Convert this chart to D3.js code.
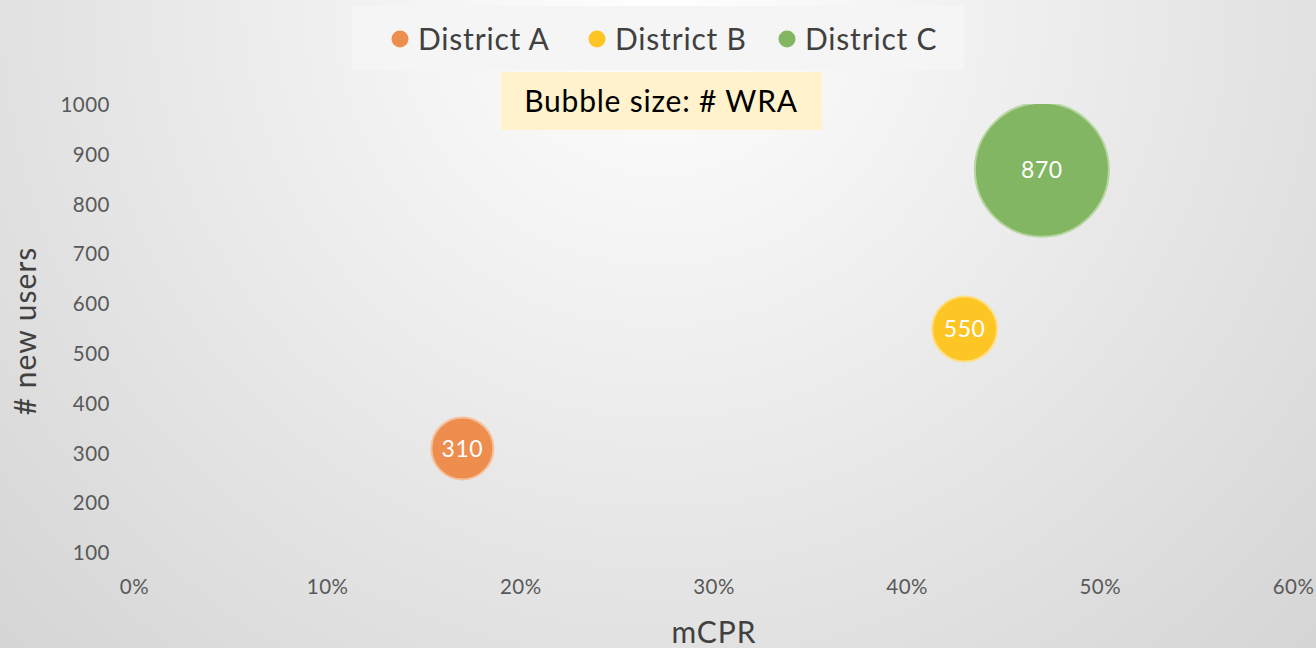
<!DOCTYPE html>
<html>
<head>
<meta charset="utf-8">
<script src="https://cdn.jsdelivr.net/npm/d3@7"></script>
<style>
  html, body { margin: 0; padding: 0; }
  body { width: 1316px; height: 648px; overflow: hidden; font-family: Lato, "Open Sans", sans-serif; }
</style>
</head>
<body>
<div id="container"></div>
<script>
const districts = ["District A", "District B", "District C"];
const mcpr = [0.17, 0.43, 0.47];
const newUsers = [310, 550, 870];
const wra = [2100, 2300, 9800];
const fillColors = ["#ee8e4e", "#fdc624", "#82b662"];
const strokeColors = ["#f6c19c", "#fedf86", "#b7d6a2"];
const yTicks = [100, 200, 300, 400, 500, 600, 700, 800, 900, 1000];
const xTicks = [0, 0.1, 0.2, 0.3, 0.4, 0.5, 0.6];

const width = 1316;
const height = 648;

const svg = d3.select("#container").append("svg")
  .attr("width", width).attr("height", height);

const defs = svg.append("defs");
const grad = defs.append("radialGradient")
  .attr("id", "bg").attr("gradientUnits", "userSpaceOnUse")
  .attr("cx", 660).attr("cy", 0).attr("r", 900);
grad.append("stop").attr("offset", "0%").attr("stop-color", "#ffffff");
grad.append("stop").attr("offset", "100%").attr("stop-color", "#d6d6d6");

defs.append("clipPath").attr("id", "plot-clip")
  .append("rect").attr("x", 0).attr("y", 104).attr("width", width).attr("height", 460);

svg.append("rect").attr("width", width).attr("height", height).attr("fill", "url(#bg)");

const x = d3.scaleLinear().domain([0, 0.6]).range([134, 1293]);
const y = d3.scaleLinear().domain([100, 1000]).range([553, 105]);
const r = d3.scaleSqrt().domain([0, d3.max(wra)]).range([0, 67]);

// y axis labels
const yAxis = svg.append("g").attr("transform", "translate(110,0)")
  .call(d3.axisLeft(y).tickValues(yTicks).tickFormat(d3.format("d")).tickSize(0).tickPadding(0));
yAxis.select(".domain").remove();
yAxis.selectAll("text")
  .attr("font-family", "Lato, sans-serif").attr("font-size", 20.5)
  .attr("letter-spacing", 0.5).attr("fill", "#595959");

// x axis labels
const xAxis = svg.append("g").attr("transform", "translate(0,579)")
  .call(d3.axisBottom(x).tickValues(xTicks).tickFormat(d3.format(".0%")).tickSize(0).tickPadding(0));
xAxis.select(".domain").remove();
xAxis.selectAll("text")
  .attr("font-family", "Lato, sans-serif").attr("font-size", 20.5)
  .attr("letter-spacing", 0.5).attr("fill", "#595959");

// axis titles
svg.append("text")
  .attr("transform", "translate(36,331) rotate(-90)")
  .attr("text-anchor", "middle")
  .attr("font-size", 30).attr("letter-spacing", 1).attr("fill", "#404040")
  .text("# new users");

svg.append("text")
  .attr("x", 714).attr("y", 643)
  .attr("text-anchor", "middle")
  .attr("font-size", 30).attr("letter-spacing", 1).attr("fill", "#404040")
  .text("mCPR");

// bubbles
const data = districts.map((name, i) => ({
  name, mcpr: mcpr[i], users: newUsers[i], wra: wra[i], fill: fillColors[i], stroke: strokeColors[i]
}));

const bubbles = svg.append("g").attr("clip-path", "url(#plot-clip)")
  .selectAll("g").data(data).enter().append("g")
  .attr("transform", d => `translate(${x(d.mcpr)},${y(d.users)})`);

bubbles.append("circle")
  .attr("r", d => r(d.wra))
  .attr("fill", d => d.fill)
  .attr("stroke", d => d.stroke)
  .attr("stroke-width", 2);

bubbles.append("text")
  .attr("text-anchor", "middle")
  .attr("dy", "0.36em")
  .attr("font-size", 23).attr("letter-spacing", 0.6).attr("fill", "#ffffff")
  .text(d => d.users);

// legend
svg.append("rect")
  .attr("x", 352).attr("y", 6).attr("width", 612).attr("height", 64)
  .attr("fill", "#f5f5f5");

const legendX = [400, 597, 787];
const legend = svg.selectAll(".legend-item").data(data).enter().append("g")
  .attr("class", "legend-item")
  .attr("transform", (d, i) => `translate(${legendX[i]},39)`);

legend.append("circle").attr("r", 8.5).attr("fill", d => d.fill);
legend.append("text")
  .attr("x", 18).attr("dy", "0.35em")
  .attr("font-size", 30).attr("letter-spacing", 0.8).attr("fill", "#404040")
  .text(d => d.name);

// bubble size note
svg.append("rect")
  .attr("x", 501).attr("y", 72).attr("width", 321).attr("height", 58)
  .attr("fill", "#fff2cc");
svg.append("text")
  .attr("x", 661).attr("y", 101).attr("dy", "0.35em")
  .attr("text-anchor", "middle")
  .attr("font-size", 30).attr("letter-spacing", 0.8).attr("fill", "#000000")
  .text("Bubble size: # WRA");
</script>
</body>
</html>
